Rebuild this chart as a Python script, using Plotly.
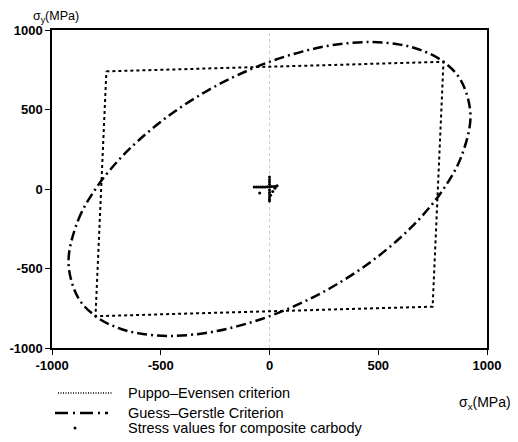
import plotly.graph_objects as go

# Puppo-Evensen criterion (polygon vertices, MPa)
pe_x = [-750, 800, 750, -800, -750]
pe_y = [740, 800, -740, -800, 740]

# Guess-Gerstle criterion (points read along the ellipse, MPa)
gg_x = [-924, -880, -800, -700, -600, -462, -300, -150, 0, 150, 300, 462, 600, 700, 800, 880, 924,
        880, 800, 700, 600, 462, 300, 150, 0, -150, -300, -462, -600, -700, -800, -880, -924]
gg_y = [-462, -197, 0, 172, 308, 462, 607, 714, 800, 864, 907, 924, 908, 872, 800, 683, 462,
        197, 0, -172, -308, -462, -607, -714, -800, -864, -907, -924, -908, -872, -800, -683, -462]

# Stress values for composite carbody (MPa)
sv_x = [-70, -60, -50, -40, -30, -20, -10, 0, 10, 20, 30, 35, 0, 0, 0, 0, 0, 0, 0, 0, 0, 0, -45, 15, 25, 5]
sv_y = [12, 12, 12, 13, 13, 13, 14, 14, 15, 16, 17, 20, 75, 60, 45, 30, -5, -20, -35, -50, -65, -75, -25, -15, 5, -40]

tick_vals = [-1000, -500, 0, 500, 1000]
tick_text = ["-1000", "-500", "0", "500", "1000"]

legend_names = ["Puppo\u2013Evensen criterion", "Guess\u2013Gerstle Criterion",
                "Stress values for composite carbody"]

FONT = "Liberation Sans"
OFF = 8  # page body margin
W, H = 518 - OFF, 442 - OFF
# plot area in page pixels: x 52..487, y 30..348
L, T = 52 - OFF, 30 - OFF
R = W - (487 - OFF)
B = H - (348 - OFF)
PW, PH = W - L - R, H - T - B


def px(x):
    return (x - OFF - L) / PW


def py(y):
    return (H - B - (y - OFF)) / PH


fig = go.Figure()
fig.add_trace(go.Scatter(x=pe_x, y=pe_y, mode="lines", name=legend_names[0],
                         line=dict(color="black", width=2, dash="dot")))
fig.add_trace(go.Scatter(x=gg_x, y=gg_y, mode="lines", name=legend_names[1],
                         line=dict(color="black", width=2.5, dash="10px,4px,2px,4px", shape="spline")))
fig.add_trace(go.Scatter(x=sv_x, y=sv_y, mode="markers", name=legend_names[2],
                         marker=dict(color="black", size=3)))

axis_common = dict(range=[-1000, 1000], tickvals=tick_vals, ticktext=tick_text,
                   showgrid=False, zeroline=False, showline=True, linecolor="black",
                   linewidth=1.5, mirror=True, ticks="outside", ticklen=5, tickcolor="black",
                   automargin=False,
                   tickfont=dict(family=FONT, size=13, color="black", weight="bold"))
fig.update_xaxes(**axis_common)
fig.update_yaxes(**axis_common)

fig.add_shape(type="line", xref="x", yref="y", x0=0, x1=0, y0=-1000, y1=1000,
              line=dict(color="#cccccc", width=1, dash="dot"), layer="below")

# axis titles
fig.add_annotation(text="\u03c3<sub>y</sub>(MPa)", xref="paper", yref="paper", x=px(32), y=py(8),
                   xanchor="left", yanchor="top", showarrow=False, borderpad=0,
                   font=dict(family=FONT, size=12.5, color="black"))
fig.add_annotation(text="\u03c3<sub>x</sub>(MPa)", xref="paper", yref="paper", x=px(513), y=py(403),
                   xanchor="right", yanchor="middle", showarrow=False,
                   font=dict(family=FONT, size=14, color="black"))

# manual legend
rows = [393, 413, 428]
fig.add_shape(type="line", xref="paper", yref="paper", x0=px(58), x1=px(112), y0=py(rows[0]), y1=py(rows[0]),
              line=dict(color="black", width=1.3, dash="1px,1.5px"))
fig.add_shape(type="line", xref="paper", yref="paper", x0=px(55), x1=px(108), y0=py(rows[1]), y1=py(rows[1]),
              line=dict(color="black", width=2.5, dash="13px,5px,2px,5px"))
fig.add_shape(type="circle", xref="paper", yref="paper", x0=px(73.5), x1=px(76.5), y0=py(rows[2] + 1.5),
              y1=py(rows[2] - 1.5), fillcolor="black", line=dict(color="black", width=0))
for name, r in zip(legend_names, rows):
    fig.add_annotation(text=name, xref="paper", yref="paper", x=px(126), y=py(r),
                       xanchor="left", yanchor="middle", showarrow=False,
                       font=dict(family=FONT, size=14.5, color="black"))

fig.update_layout(
    width=W, height=H,
    margin=dict(l=L, r=R, t=T, b=B),
    paper_bgcolor="white", plot_bgcolor="white",
    showlegend=False,
)

fig.write_html("out.html")
